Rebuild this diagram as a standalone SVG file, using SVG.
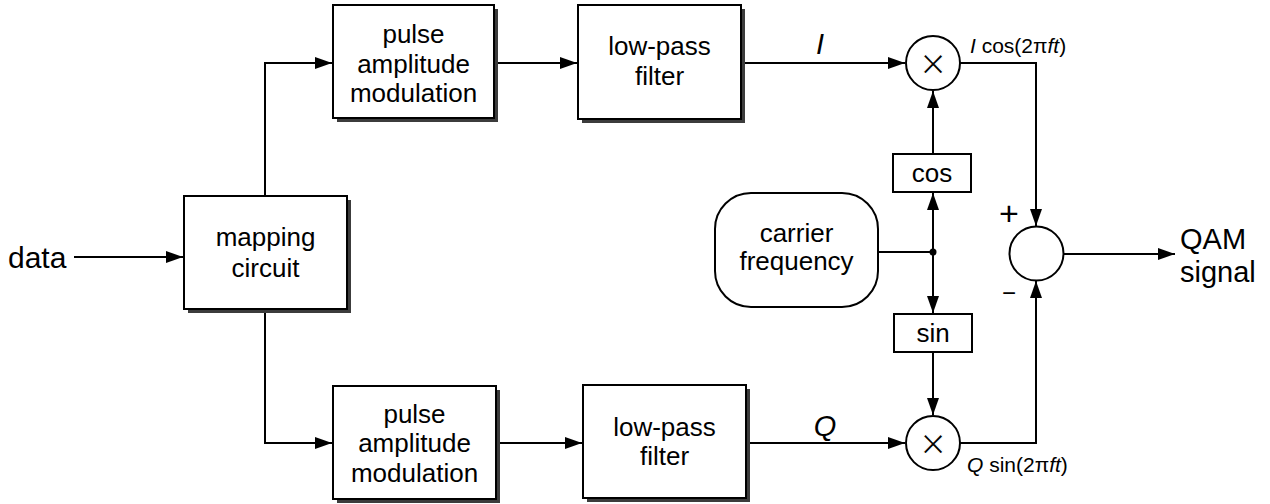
<svg xmlns="http://www.w3.org/2000/svg" width="1270" height="504" viewBox="0 0 1270 504">
<style>
.box{fill:#fff;stroke:#000;stroke-width:2}
.sh{fill:#3c3c3c}
.ln{fill:none;stroke:#000;stroke-width:2}
.c{fill:#fff;stroke:#000;stroke-width:2}
text{font-family:"Liberation Sans",Arial,sans-serif;fill:#000}
.t{font-size:26px;text-anchor:middle}
.big{font-size:30px}
.out{font-size:29px}
.it{font-style:italic}
.sm{font-size:21px}
.x{font-size:44px;text-anchor:middle;stroke:#fff;stroke-width:1.1}
.pm{text-anchor:middle}
</style>
<defs>
<marker id="ah" markerUnits="userSpaceOnUse" markerWidth="18" markerHeight="13" refX="17" refY="6.5" orient="auto" viewBox="0 0 18 13">
<path d="M0,0.5 L17,6.5 L0,12.5 z" fill="#000"/>
</marker>
</defs>
<g id="connectors">
<path class="ln" d="M74,257 H183" marker-end="url(#ah)"/>
<path class="ln" d="M265,196 V63 H332" marker-end="url(#ah)"/>
<path class="ln" d="M265,309 V443 H332" marker-end="url(#ah)"/>
<path class="ln" d="M494,63 H577" marker-end="url(#ah)"/>
<path class="ln" d="M496,443 H582" marker-end="url(#ah)"/>
<path class="ln" d="M741,63 H905" marker-end="url(#ah)"/>
<path class="ln" d="M746,443 H905" marker-end="url(#ah)"/>
<path class="ln" d="M878,252 H933"/>
<path class="ln" d="M933,252 V193" marker-end="url(#ah)"/>
<path class="ln" d="M933,252 V313" marker-end="url(#ah)"/>
<path class="ln" d="M933,154 V91" marker-end="url(#ah)"/>
<path class="ln" d="M933,352 V415" marker-end="url(#ah)"/>
<circle cx="933" cy="252" r="3.5" fill="#000"/>
<path class="ln" d="M960,63 H1036 V226" marker-end="url(#ah)"/>
<path class="ln" d="M960,443 H1036 V281" marker-end="url(#ah)"/>
<path class="ln" d="M1064,254 H1175" marker-end="url(#ah)"/>
</g>
<g id="data-label"><text class="big" x="8" y="268" font-size="32">data</text></g>
<g id="mapping">
<rect class="sh" x="188" y="200" width="163" height="113"/>
<rect class="box" x="184" y="196" width="163" height="113"/>
<text class="t" x="265.5" y="246">mapping</text>
<text class="t" x="265.5" y="277">circuit</text>
</g>
<g id="pam-top">
<rect class="sh" x="337" y="9" width="161" height="113"/>
<rect class="box" x="333" y="5" width="161" height="113"/>
<text class="t" x="413.5" y="43">pulse</text>
<text class="t" x="413.5" y="73">amplitude</text>
<text class="t" x="413.5" y="102">modulation</text>
</g>
<g id="pam-bottom">
<rect class="sh" x="337" y="390" width="163" height="113"/>
<rect class="box" x="333" y="386" width="163" height="113"/>
<text class="t" x="414.5" y="423">pulse</text>
<text class="t" x="414.5" y="452">amplitude</text>
<text class="t" x="414.5" y="482">modulation</text>
</g>
<g id="lpf-top">
<rect class="sh" x="582" y="9" width="163" height="114"/>
<rect class="box" x="578" y="5" width="163" height="114"/>
<text class="t" x="659.5" y="55">low-pass</text>
<text class="t" x="659.5" y="85">filter</text>
</g>
<g id="lpf-bottom">
<rect class="sh" x="587" y="389" width="163" height="113"/>
<rect class="box" x="583" y="385" width="163" height="113"/>
<text class="t" x="664.5" y="436">low-pass</text>
<text class="t" x="664.5" y="465">filter</text>
</g>
<g id="label-I"><text class="it" x="820" y="54" font-size="29" text-anchor="middle">I</text></g>
<g id="label-Q"><text class="it" x="825" y="436" font-size="29" text-anchor="middle">Q</text></g>
<g id="mult-top">
<circle class="c" cx="933" cy="63" r="27"/>
<text class="x" x="933" y="79">×</text>
</g>
<g id="mult-bottom">
<circle class="c" cx="933" cy="443" r="27"/>
<text class="x" x="933" y="459">×</text>
</g>
<g id="cos">
<rect class="box" x="893" y="154" width="78" height="38"/>
<text class="t" x="932" y="182">cos</text>
</g>
<g id="sin">
<rect class="box" x="894" y="314" width="78" height="38"/>
<text class="t" x="933" y="342">sin</text>
</g>
<g id="carrier">
<rect class="box" x="715" y="193" width="163" height="114" rx="36" ry="36"/>
<text class="t" x="796.5" y="242">carrier</text>
<text class="t" x="796.5" y="270">frequency</text>
</g>
<g id="label-icos"><text class="sm" x="970" y="53"><tspan class="it">I</tspan> cos(2π<tspan class="it">ft</tspan>)</text></g>
<g id="label-qsin"><text class="sm" x="967" y="472"><tspan class="it">Q</tspan> sin(2π<tspan class="it">ft</tspan>)</text></g>
<g id="sum">
<circle class="c" cx="1036.5" cy="253.5" r="27"/>
<text class="pm" x="1009" y="225" font-size="34">+</text>
<text class="pm" x="1009" y="301" font-size="24">−</text>
</g>
<g id="output-label">
<text class="out" x="1180" y="249">QAM</text>
<text class="out" x="1180" y="282">signal</text>
</g>
</svg>
